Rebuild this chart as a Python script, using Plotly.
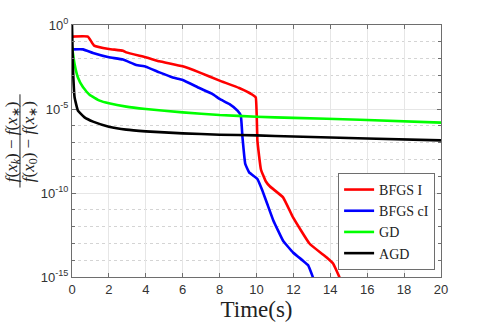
import numpy as np
import plotly.graph_objects as go

# curves: time (s) and log10 of the relative gap
bfgs_i_t = [0, 0.86, 1.2, 2.0, 2.76, 2.94, 4.0, 4.74, 6.0, 6.9, 8.0, 9.06, 9.78, 9.96, 10.05, 10.24, 10.5,
            10.72, 11.44, 11.98, 12.88, 13.79, 14.15, 14.5]
bfgs_i_log = [-0.69, -0.69, -1.23, -1.43, -1.53, -1.63, -1.92, -2.16, -2.46, -2.82, -3.31, -3.75, -4.15, -4.31,
              -6.9, -8.6, -9.3, -9.6, -10.26, -11.45, -13.02, -13.83, -14.2, -15.02]

bfgs_ci_t = [0, 0.6, 1.14, 2.0, 2.76, 3.48, 4.0, 4.74, 5.46, 6.0, 6.9, 7.62, 8.0, 8.52, 8.97, 9.15, 9.24, 9.39,
             9.6, 10.05, 10.32, 10.6, 10.9, 11.44, 11.98, 12.52, 12.8, 13.06]
bfgs_ci_log = [-1.45, -1.45, -1.67, -1.92, -2.06, -2.38, -2.48, -2.82, -3.12, -3.27, -3.75, -4.11, -4.4, -4.7,
               -5.1, -5.4, -6.69, -8.27, -8.77, -9.17, -9.86, -10.7, -11.6, -12.84, -13.54, -14.03, -14.3, -15.02]

gd_t = [0, 0.14, 0.32, 0.6, 0.95, 1.5, 2.0, 2.94, 4.0, 6.0, 8.0, 10.0, 12.0, 15.6, 20.0]
gd_log = [-1.3, -2.32, -3.12, -3.71, -4.15, -4.5, -4.66, -4.86, -5.0, -5.2, -5.36, -5.46, -5.53, -5.64, -5.81]

agd_t = [0, 0.05, 0.14, 0.32, 0.68, 1.14, 2.0, 2.94, 4.0, 6.0, 8.0, 10.0, 12.0, 16.0, 20.0]
agd_log = [0, -2.52, -4.3, -5.1, -5.5, -5.75, -6.05, -6.23, -6.33, -6.45, -6.53, -6.57, -6.64, -6.76, -6.87]

y_ticks = [1e-15, 1e-10, 1e-5, 1]
y_tick_text = ["10<sup>-15</sup>", "10<sup>-10</sup>", "10<sup>-5</sup>", "10<sup>0</sup>"]
decades = [10.0 ** -k for k in range(0, 16)]

series = [
    ("BFGS I", bfgs_i_t, bfgs_i_log, "#ff0000"),
    ("BFGS cI", bfgs_ci_t, bfgs_ci_log, "#0000ff"),
    ("GD", gd_t, gd_log, "#00ff00"),
    ("AGD", agd_t, agd_log, "#000000"),
]

fig = go.Figure()
for name, t, lg, color in series:
    fig.add_trace(go.Scatter(x=t, y=10.0 ** np.array(lg), mode="lines", name=name,
                             line=dict(color=color, width=2.6, shape="spline", smoothing=0.3)))

axis_common = dict(
    showline=True, linecolor="#6e6e6e", linewidth=1, mirror="allticks",
    ticks="inside", ticklen=4, tickcolor="#6e6e6e",
    tickfont=dict(family="Liberation Sans, Arial", size=13, color="#333333"),
    gridcolor="#e6e6e6", gridwidth=1, zeroline=False,
)

fig.update_xaxes(range=[0, 20], tickvals=list(range(0, 21, 2)), **axis_common,
                 title=dict(text="Time(s)", font=dict(family="Liberation Serif, Times New Roman", size=23,
                                                       color="#222222"), standoff=2))
fig.update_yaxes(type="log", range=[-15, 0], tickvals=y_ticks, ticktext=y_tick_text, **axis_common,
                 minor=dict(tickvals=decades, ticks="inside", ticklen=3, tickcolor="#6e6e6e",
                            showgrid=True, gridcolor="#d4d4d4", griddash="dot", gridwidth=1))

# y label as a stacked fraction
lab_font = dict(family="Liberation Serif, Times New Roman", size=17, color="#222222")
fig.add_annotation(xref="paper", yref="paper", x=-0.161, y=0.537, xanchor="center", yanchor="middle",
                   textangle=-90, showarrow=False,
                   text="<i>f</i>(<i>x<sub>k</sub></i>) − <i>f</i>(<i>x</i><sub>∗</sub>)", font=lab_font)
fig.add_annotation(xref="paper", yref="paper", x=-0.115, y=0.537, xanchor="center", yanchor="middle",
                   textangle=-90, showarrow=False,
                   text="<i>f</i>(<i>x</i><sub>0</sub>) − <i>f</i>(<i>x</i><sub>∗</sub>)", font=lab_font)
fig.add_shape(type="line", xref="paper", yref="paper", x0=-0.141, x1=-0.141, y0=0.355, y1=0.725,
              line=dict(color="#222222", width=1))

fig.update_layout(
    width=488, height=326,
    margin=dict(l=72, r=47, t=25, b=49),
    paper_bgcolor="white", plot_bgcolor="white",
    showlegend=True,
    legend=dict(x=0.984, y=0.028, xanchor="right", yanchor="bottom",
                bgcolor="white", bordercolor="#6e6e6e", borderwidth=1,
                font=dict(family="Liberation Serif, Times New Roman", size=14, color="#222222"),
                tracegroupgap=0, itemwidth=30),
)

fig.write_html("out.html", config={"displayModeBar": False},
               post_script="document.body.style.margin='0';")
